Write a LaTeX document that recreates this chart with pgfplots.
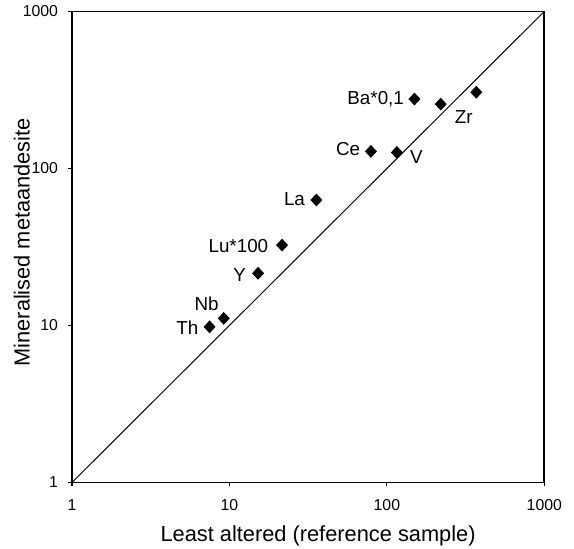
\documentclass[border=0pt]{standalone}
\usepackage{pgfplots}
\pgfplotsset{compat=1.18}
\usepackage{fontspec}
\setmainfont{Liberation Sans}
\begin{document}
\begin{tikzpicture}
\begin{axis}[
  at={(0,0)}, anchor=south west,
  scale only axis, width=236.15pt, height=235.5pt,
  xmode=log, ymode=log,
  xmin=1, xmax=1000, ymin=1, ymax=1000,
  xtick={1,10,100,1000}, ytick={1,10,100,1000},
  xticklabels={1,10,100,1000}, yticklabels={1,10,100,1000},
  xtick pos=bottom, ytick pos=left,
  /pgf/number format/assume math mode=true,
  minor tick style={draw=none},
  tick align=outside, major tick length=2pt,
  tick style={black, line width=0.6pt},
  axis line style={line width=0.8pt},
  ticklabel style={font=\fontsize{7.9}{9}\selectfont},
  xticklabel style={yshift=-3pt},
  yticklabel style={xshift=-1.5pt},
  xlabel={Least altered (reference sample)},
  ylabel={Mineralised metaandesite},
  label style={font=\fontsize{10.9}{13}\selectfont},
  xlabel style={at={(axis description cs:0.521,0)}, anchor=base, yshift=-29.5pt},
  ylabel style={at={(axis description cs:-0.106,0.51)}, anchor=center},
  clip=false,
]
\addplot[black, line width=0.5pt] coordinates {(1,1) (1000,1000)};
\addplot[only marks, mark=diamond*, mark size=2.9pt, mark options={xscale=1.25, fill=black, draw=black}] coordinates {
(7.48,9.8) (9.2,11.1) (15.2,21.5) (21.6,32.5) (35.7,63) (79.2,128.5) (115.8,126.5) (149.7,277) (220,257) (370,306)
};
\begin{scope}[every node/.style={font=\fontsize{9.4}{11}\selectfont, inner sep=0pt}]
\node at (axis cs:5.4,9.65) {Th};
\node at (axis cs:7.17,13.7) {Nb};
\node at (axis cs:11.6,20.9) {Y};
\node at (axis cs:11.4,32.2) {Lu*100};
\node at (axis cs:25.9,63.7) {La};
\node at (axis cs:56.8,132.5) {Ce};
\node at (axis cs:153.8,119) {V};
\node at (axis cs:84.9,274.8) {Ba*0,1};
\node at (axis cs:308,212.5) {Zr};
\end{scope}
\end{axis}
\pgfresetboundingbox
\path (-36pt,-33.25pt) rectangle (251pt,241.25pt);
\end{tikzpicture}
\end{document}
